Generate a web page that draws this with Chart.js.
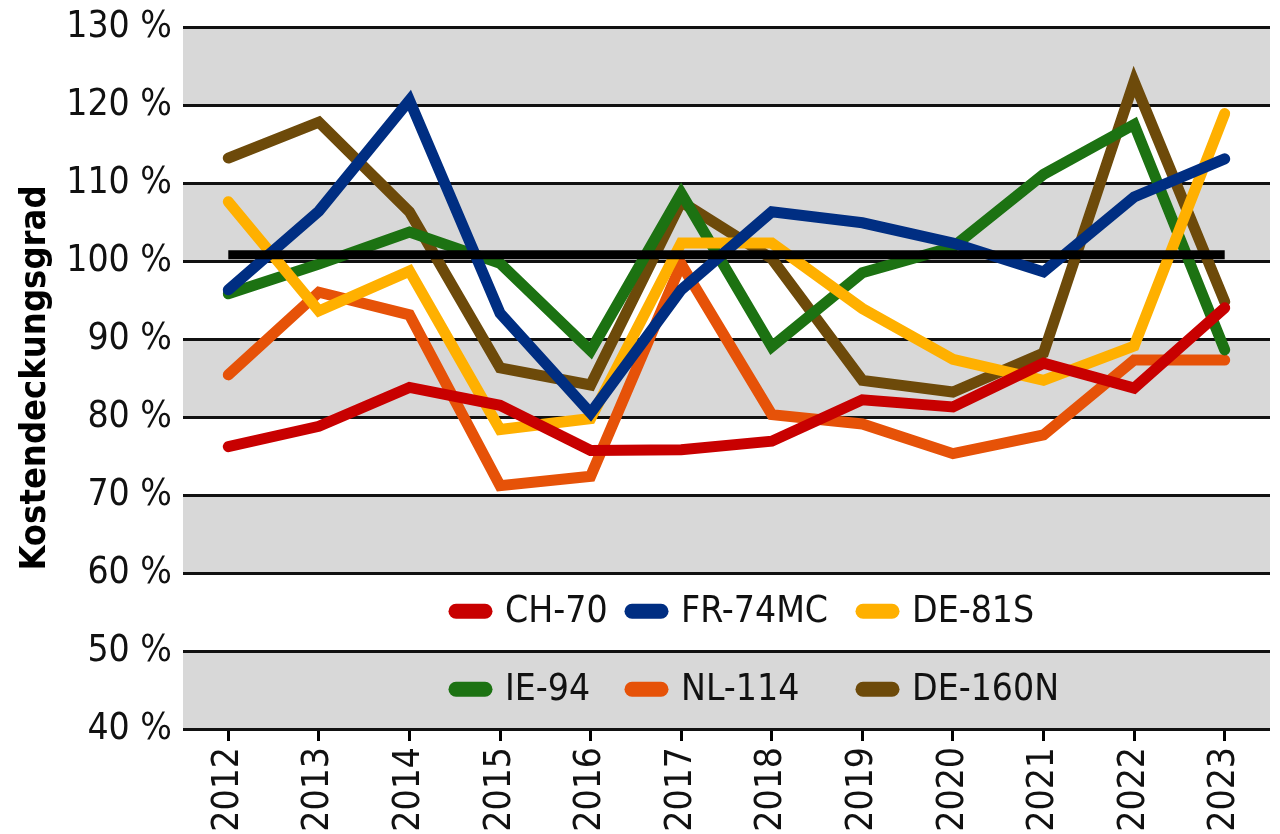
<!DOCTYPE html>
<html lang="de">
<head>
<meta charset="utf-8">
<title>Kostendeckungsgrad</title>
<script src="https://cdn.jsdelivr.net/npm/chart.js@4.4.1/dist/chart.umd.min.js"></script>
<style>
    html, body { margin: 0; padding: 0; background: #fff; overflow: hidden; }
    #chart { display: block; }
</style>
</head>
<body>
<canvas id="chart" width="1280" height="860"></canvas>
<script>
    // Values (percent)
    var years = ['2012', '2013', '2014', '2015', '2016', '2017', '2018', '2019', '2020', '2021', '2022', '2023'];

    var seriesNames = ['CH-70', 'FR-74MC', 'DE-81S', 'IE-94', 'NL-114', 'DE-160N'];
    var seriesColors = ['#c80000', '#002e82', '#ffb000', '#1c7212', '#e65208', '#6d4a0a'];

    var ch70   = [76.2, 78.8, 83.8, 81.5, 75.7, 75.8, 76.9, 82.2, 81.3, 86.9, 83.7, 94.0];
    var fr74mc = [96.3, 106.4, 120.6, 93.3, 80.5, 96.3, 106.3, 104.9, 102.3, 98.6, 108.2, 113.1];
    var de81s  = [107.6, 93.6, 98.7, 78.4, 79.8, 102.3, 102.3, 93.9, 87.4, 84.7, 89.1, 118.9];
    var ie94   = [95.8, 99.6, 103.7, 99.7, 88.5, 108.7, 89.0, 98.5, 101.8, 111.1, 117.5, 88.6];
    var nl114  = [85.4, 96.0, 93.1, 71.2, 72.4, 99.6, 80.3, 79.1, 75.3, 77.7, 87.3, 87.3];
    var de160n = [113.2, 117.8, 106.3, 86.3, 84.1, 107.6, 100.3, 84.7, 83.2, 88.2, 123.0, 94.8];

    // Black 100 % reference bar
    var referenceLine = [100.8, 100.8, 100.8, 100.8, 100.8, 100.8, 100.8, 100.8, 100.8, 100.8, 100.8, 100.8];

    var yMin = 40, yMax = 130, yStep = 10;
    var grayBands = [[40, 50], [60, 70], [80, 90], [100, 110], [120, 130]];

    var FONT = "'Liberation Sans Narrow', 'DejaVu Sans Condensed', 'Roboto Condensed', 'Liberation Sans', sans-serif";

    var seriesData = [ch70, fr74mc, de81s, ie94, nl114, de160n];

    /**
     * Grey horizontal bands behind the lines.
     */
    var bandPlugin = {
        id: 'bands',
        beforeDraw: function(chart) {
            var ctx = chart.ctx;
            var area = chart.chartArea;
            var y = chart.scales.y;
            ctx.save();
            ctx.fillStyle = '#d8d8d8';
            grayBands.forEach(function(b) {
                var top = y.getPixelForValue(b[1]);
                var bottom = y.getPixelForValue(b[0]);
                ctx.fillRect(area.left, top, area.right - area.left, bottom - top);
            });
            ctx.restore();
        }
    };

    /**
     * Legend drawn inside the plot, two rows of three.
     */
    var legendPlugin = {
        id: 'inlineLegend',
        afterDatasetsDraw: function(chart, args, opts) {
            var ctx = chart.ctx;
            var y = chart.scales.y;
            ctx.save();
            ctx.font = '37px ' + FONT;
            ctx.textBaseline = 'middle';
            ctx.textAlign = 'left';
            ctx.lineCap = 'round';
            ctx.lineWidth = 15;
            seriesNames.forEach(function(name, i) {
                var px = opts.columns[i % 3];
                var py = y.getPixelForValue(opts.rows[Math.floor(i / 3)]);
                ctx.strokeStyle = seriesColors[i];
                ctx.beginPath();
                ctx.moveTo(px + 7, py);
                ctx.lineTo(px + 36, py);
                ctx.stroke();
                ctx.fillStyle = '#111';
                ctx.fillText(name, px + 56, py + 1);
            });
            ctx.restore();
        }
    };

    var datasets = [{
        label: 'Referenz',
        data: referenceLine,
        borderColor: '#000',
        borderWidth: 9,
        borderCapStyle: 'butt',
        pointRadius: 0,
        tension: 0
    }];

    seriesNames.forEach(function(name, i) {
        datasets.push({
            label: name,
            data: seriesData[i],
            borderColor: seriesColors[i],
            backgroundColor: seriesColors[i],
            borderWidth: 11,
            borderCapStyle: 'round',
            borderJoinStyle: 'miter',
            pointRadius: 0,
            tension: 0
        });
    });

    new Chart(document.getElementById('chart').getContext('2d'), {
        type: 'line',
        data: { labels: years, datasets: datasets },
        plugins: [bandPlugin, legendPlugin],
        options: {
            responsive: false,
            animation: false,
            layout: { padding: { top: 27, right: 10, left: 0, bottom: 0 } },
            plugins: {
                legend: { display: false },
                tooltip: { enabled: false },
                inlineLegend: { columns: [449, 625, 856], rows: [55.1, 45.1] }
            },
            scales: {
                x: {
                    offset: true,
                    border: { display: false },
                    grid: {
                        offset: false,
                        drawOnChartArea: false,
                        drawTicks: true,
                        tickLength: 12,
                        color: '#000',
                        lineWidth: 3
                    },
                    ticks: {
                        minRotation: 90,
                        maxRotation: 90,
                        padding: 6,
                        color: '#111',
                        font: { family: FONT, size: 37 }
                    },
                    afterFit: function(scale) { scale.height = 131; }
                },
                y: {
                    min: yMin,
                    max: yMax,
                    border: { display: false },
                    grid: { color: '#111', lineWidth: 3, drawTicks: false },
                    ticks: {
                        stepSize: yStep,
                        padding: 11,
                        color: '#111',
                        font: { family: FONT, size: 37 },
                        callback: function(v) { return v + ' %'; }
                    },
                    title: {
                        display: true,
                        text: 'Kostendeckungsgrad',
                        color: '#000',
                        padding: { top: 14, bottom: 0 },
                        font: { family: FONT, size: 36, weight: 'bold' }
                    },
                    afterFit: function(scale) {
                        scale.width = 183;
                        // let the layout padding alone decide the top edge
                        scale.paddingTop = 0;
                        scale.paddingBottom = 0;
                    }
                }
            }
        }
    });
</script>
</body>
</html>
